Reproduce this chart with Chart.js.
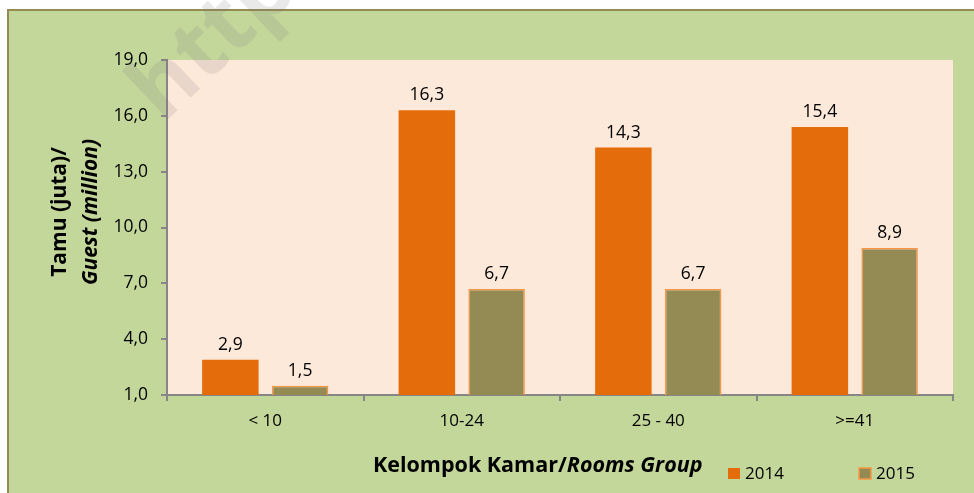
<!DOCTYPE html>
<html>
<head>
<meta charset="utf-8">
<script src="https://cdn.jsdelivr.net/npm/chart.js"></script>
<style>
  html, body { margin: 0; padding: 0; background: #fff; }
  #wrap { width: 974px; height: 493px; }
</style>
</head>
<body>
<div id="wrap"><canvas id="c" width="974" height="493"></canvas></div>
<script>
// --- Data ---
const categories = ['< 10', '10-24', '25 - 40', '>=41'];
const seriesNames = ['2014', '2015'];
const guests2014 = [2.9, 16.3, 14.3, 15.4];
const guests2015 = [1.5, 6.7, 6.7, 8.9];
const yMin = 1, yMax = 19, yStep = 3;

const FONT = '"Open Sans", sans-serif';
const fmt = v => v.toFixed(1).replace('.', ',');

// background, frame and plot area
const backdrop = {
    id: 'backdrop',
    beforeDraw(chart) {
        const { ctx, chartArea: a } = chart;
        ctx.save();
        ctx.fillStyle = '#ffffff';
        ctx.fillRect(0, 0, chart.width, chart.height);
        ctx.fillStyle = '#c4d79b';
        ctx.fillRect(7, 10, chart.width - 7, chart.height - 10);
        ctx.strokeStyle = '#948a54';
        ctx.lineWidth = 2;
        ctx.beginPath();
        ctx.moveTo(8, chart.height);
        ctx.lineTo(8, 10);
        ctx.lineTo(chart.width, 10);
        ctx.stroke();
        ctx.fillStyle = '#fde9d9';
        ctx.fillRect(a.left, a.top, a.right - a.left, a.bottom - a.top);
        ctx.restore();
    }
};

// value labels, axis titles with mixed styles, legend, watermark
const extras = {
    id: 'extras',
    afterDraw(chart) {
        const { ctx } = chart;
        ctx.save();

        // value labels above bars
        ctx.fillStyle = '#000';
        ctx.font = '17.5px ' + FONT;
        ctx.textAlign = 'center';
        ctx.textBaseline = 'bottom';
        chart.data.datasets.forEach((ds, i) => {
            chart.getDatasetMeta(i).data.forEach((bar, j) => {
                ctx.fillText(fmt(ds.data[j]), bar.x, bar.y - 6);
            });
        });

        // y title (two lines, rotated)
        ctx.save();
        ctx.translate(60, 212);
        ctx.rotate(-Math.PI / 2);
        ctx.textBaseline = 'middle';
        ctx.font = 'bold 21px ' + FONT;
        ctx.fillText('Tamu (juta)/', 0, 0);
        ctx.font = 'italic bold 21px ' + FONT;
        ctx.fillText('Guest (million)', 0, 31);
        ctx.restore();

        // x title
        ctx.textBaseline = 'middle';
        const p1 = 'Kelompok Kamar/', p2 = 'Rooms Group';
        ctx.font = 'bold 21.5px ' + FONT;
        const w1 = ctx.measureText(p1).width;
        ctx.font = 'italic bold 21.5px ' + FONT;
        const w2 = ctx.measureText(p2).width;
        const x0 = 373;
        ctx.textAlign = 'left';
        ctx.font = 'bold 21.5px ' + FONT;
        ctx.fillText(p1, x0, 466);
        ctx.font = 'italic bold 21.5px ' + FONT;
        ctx.fillText(p2, x0 + w1, 466);

        // legend
        const legendX = [728, 859];
        ctx.font = '17px ' + FONT;
        chart.data.datasets.forEach((ds, i) => {
            const lx = legendX[i];
            ctx.fillStyle = ds.backgroundColor;
            ctx.fillRect(lx, 468, 12, 11);
            if (ds.borderWidth) {
                ctx.strokeStyle = ds.borderColor;
                ctx.lineWidth = 1.5;
                ctx.strokeRect(lx, 468, 12, 11);
            }
            ctx.fillStyle = '#000';
            ctx.fillText(ds.label, lx + 17, 474);
        });

        // faint watermark
        ctx.save();
        ctx.translate(163, 124);
        ctx.rotate(-0.76);
        ctx.font = 'bold 88px ' + FONT;
        ctx.fillStyle = 'rgba(120,120,120,0.16)';
        ctx.textBaseline = 'alphabetic';
        ctx.fillText('http://www.bps.go.id', 0, 0);
        ctx.restore();

        ctx.restore();
    }
};

new Chart(document.getElementById('c'), {
    type: 'bar',
    data: {
        labels: categories,
        datasets: [
            { label: seriesNames[0], data: guests2014, backgroundColor: '#e46c0a', borderWidth: 0 },
            { label: seriesNames[1], data: guests2015, backgroundColor: '#948a54', borderColor: '#f79646', borderWidth: 1.5 }
        ]
    },
    options: {
        responsive: false,
        animation: false,
        categoryPercentage: 0.71,
        barPercentage: 0.81,
        layout: { padding: { left: 107, top: 60, right: 21, bottom: 0 } },
        plugins: { legend: { display: false }, tooltip: { enabled: false } },
        scales: {
            x: {
                afterFit: s => { s.height = 98; },
                grid: { drawOnChartArea: false, offset: true, tickLength: 6, color: '#868686', lineWidth: 2 },
                border: { display: true, color: '#868686', width: 2 },
                ticks: { color: '#000', font: { family: FONT, size: 17 }, padding: 10 }
            },
            y: {
                min: yMin,
                max: yMax,
                afterFit: s => { s.width = 60; },
                grid: { drawOnChartArea: false, tickLength: 6, color: '#868686', lineWidth: 2 },
                border: { display: true, color: '#868686', width: 2 },
                ticks: { stepSize: yStep, color: '#000', font: { family: FONT, size: 17.5 }, padding: 13, callback: v => fmt(v) }
            }
        }
    },
    plugins: [backdrop, extras]
});
</script>
</body>
</html>
